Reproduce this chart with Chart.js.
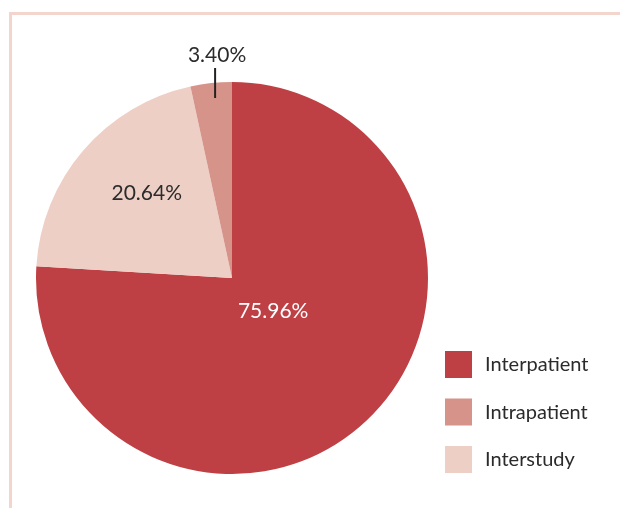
<!DOCTYPE html>
<html>
<head>
<meta charset="utf-8">
<script src="https://cdn.jsdelivr.net/npm/chart.js@4.4.0/dist/chart.umd.min.js"></script>
<style>
  html, body { margin: 0; padding: 0; background: #fff; }
  #wrap { position: relative; width: 620px; height: 508px; overflow: hidden; }
  #frame { position: absolute; left: 9px; top: 12px; right: -10px; bottom: -10px;
           border-top: 3px solid #f3d5ce; border-left: 3px solid #f3d5ce; }
  #mycanvas { position: absolute; left: 0; top: 0; }
</style>
</head>
<body>
<div id="wrap">
  <div id="frame"></div>
  <canvas id="mycanvas" width="620" height="508"></canvas>
</div>
<script>
// slices in drawing order (clockwise from 12 o'clock)
var labels = ['Interpatient', 'Interstudy', 'Intrapatient'];
var values = [75.96, 20.64, 3.40];
var colors = ['#be4044', '#edcfc6', '#d6938a'];
// legend shows them in this order
var legendOrder = ['Interpatient', 'Intrapatient', 'Interstudy'];

var FONT = 'Lato, "Open Sans", sans-serif';

// value labels: inside slices, except the small one which sits outside with a tick
var sliceLabels = {
    id: 'sliceLabels',
    afterDatasetsDraw: function(chart) {
        var ctx = chart.ctx;
        var meta = chart.getDatasetMeta(0);
        // offset of each label from the pie centre, as a fraction of the radius
        var offs = [[0.21, 0.17], [-0.435, -0.435], null];
        var textColor = ['#ffffff', '#2b2b2b', '#2b2b2b'];
        ctx.save();
        ctx.font = '21px ' + FONT;
        ctx.textAlign = 'center';
        ctx.textBaseline = 'middle';
        meta.data.forEach(function(arc, i) {
            var r = arc.outerRadius;
            var txt = values[i].toFixed(2) + '%';
            ctx.fillStyle = textColor[i];
            if (offs[i]) {
                ctx.fillText(txt, arc.x + offs[i][0] * r, arc.y + offs[i][1] * r);
            } else {
                var a = (arc.startAngle + arc.endAngle) / 2;
                var lx = arc.x + r * Math.cos(a) + 4;
                ctx.strokeStyle = '#222';
                ctx.lineWidth = 2;
                ctx.beginPath();
                ctx.moveTo(lx, arc.y - r + 16);
                ctx.lineTo(lx, arc.y - r - 14);
                ctx.stroke();
                ctx.fillText(txt, lx + 2, arc.y - r - 27);
            }
        });
        ctx.restore();
    }
};

// legend drawn by hand so it can sit lower right without moving the pie
var sideLegend = {
    id: 'sideLegend',
    afterDraw: function(chart) {
        var ctx = chart.ctx;
        ctx.save();
        ctx.font = '20px ' + FONT;
        ctx.textAlign = 'left';
        ctx.textBaseline = 'middle';
        legendOrder.forEach(function(name, k) {
            var i = labels.indexOf(name);
            var y = 351 + k * 47.5;
            ctx.fillStyle = colors[i];
            ctx.fillRect(445, y, 27, 27);
            ctx.fillStyle = '#2b2b2b';
            ctx.fillText(name, 485, y + 14);
        });
        ctx.restore();
    }
};

var ctx = document.getElementById('mycanvas');

var pieChart = new Chart(ctx, {
    type: 'pie',
    data: {
        labels: labels,
        datasets: [{
            data: values,
            backgroundColor: colors,
            borderWidth: 0
        }]
    },
    options: {
        responsive: false,
        animation: false,
        layout: {
            padding: { left: 36, top: 82, right: 192, bottom: 34 }
        },
        plugins: {
            legend: { display: false },
            tooltip: { enabled: false }
        }
    },
    plugins: [sliceLabels, sideLegend]
});
</script>
</body>
</html>
